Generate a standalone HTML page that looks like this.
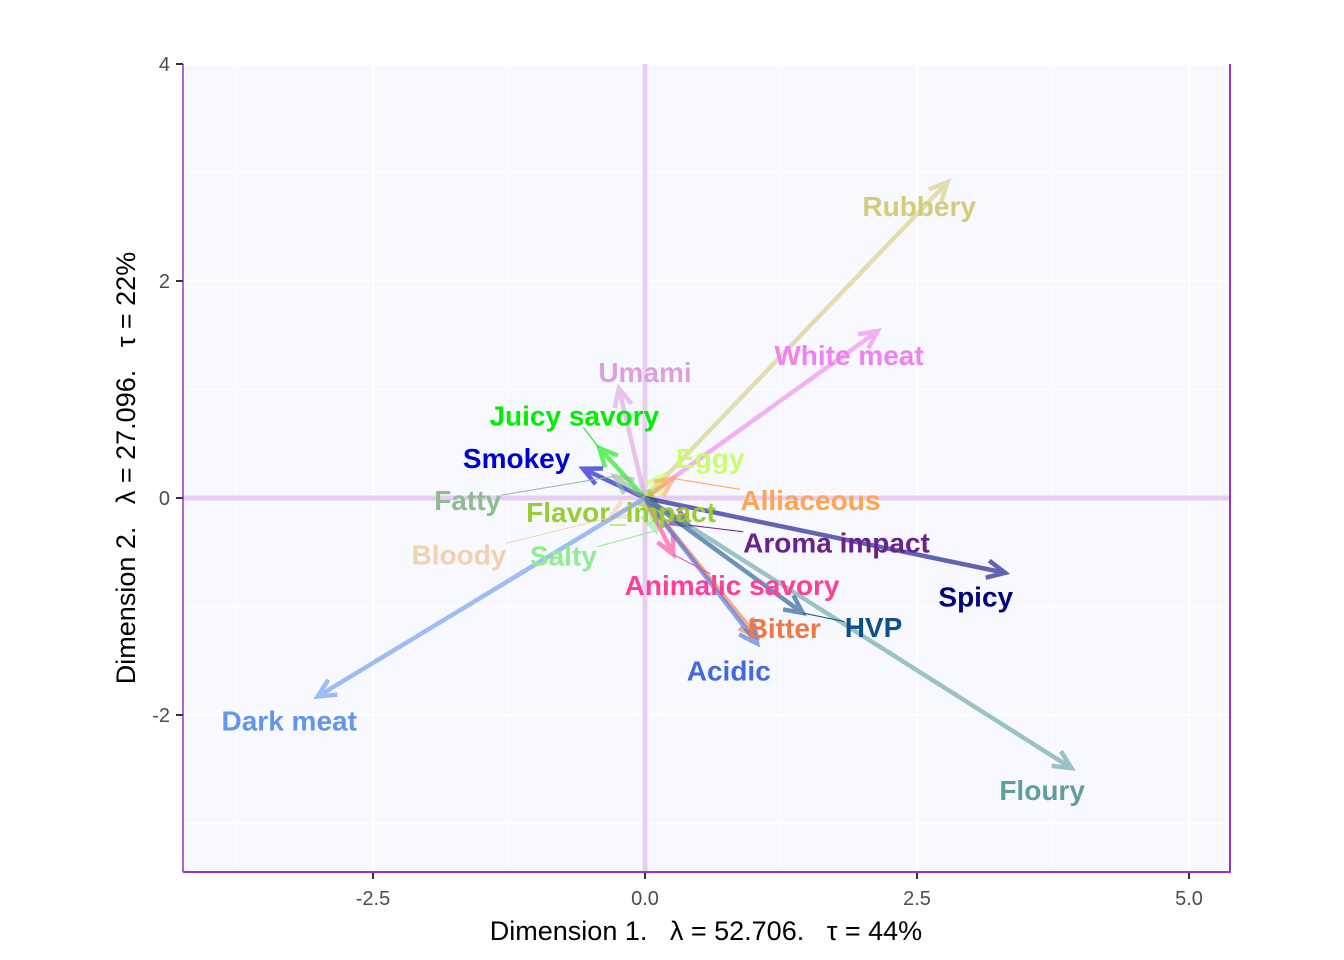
<!DOCTYPE html>
<html><head><meta charset="utf-8"><style>
body{margin:0;background:#fff;}
svg{display:block;font-family:"Liberation Sans",sans-serif;}
</style></head><body>
<svg id="chart" width="1344" height="960"></svg>
<script>
const names=["Rubbery","White meat","Umami","Juicy savory","Smokey","Eggy","Fatty","Alliaceous","Flavor_impact","Aroma impact","Bloody","Salty","Animalic savory","Spicy","Bitter","HVP","Acidic","Dark meat","Floury"];
const dim1=[2.78,2.14,-0.24,-0.42,-0.57,0.17,-0.28,0.26,0.12,0.40,-0.32,0.10,0.26,3.31,1.03,1.45,1.03,-3.01,3.92];
const dim2=[2.91,1.54,1.01,0.46,0.27,0.21,0.20,0.18,-0.08,-0.25,-0.18,-0.30,-0.52,-0.69,-1.28,-1.06,-1.34,-1.83,-2.49];
const labelX=[2.52,1.875,0,-0.65,-1.18,0.6,-1.63,1.52,-0.22,1.76,-1.71,-0.75,0.8,3.04,1.28,2.1,0.77,-3.27,3.65];
const labelY=[2.69,1.32,1.16,0.76,0.37,0.37,-0.02,-0.02,-0.13,-0.41,-0.52,-0.53,-0.80,-0.91,-1.20,-1.19,-1.59,-2.05,-2.69];
const hasLeader=[0,0,0,1,0,0,1,1,0,1,1,1,1,0,0,1,0,0,0];
const colors=["#D4CC7A","#EE82EE","#DDA0DD","#00EE00","#0000CD","#C8FF66","#8FBC8F","#FFA54F","#9ACD32","#68228B","#F0D2B0","#90EE90","#FF3E96","#000080","#EE7942","#104E8B","#4169E1","#6495ED","#5F9EA0"];
const xTicks=[-2.5,0,2.5,5];
const xTickLabels=["-2.5","0.0","2.5","5.0"];
const yTicks=[-2,0,2,4];
const yTickLabels=["-2","0","2","4"];

const NS="http://www.w3.org/2000/svg";
const svg=document.getElementById("chart");
const L=183,R=1230,T=64,B=872;
const sx=v=>645+v*108.8;
const sy=v=>498-v*108.5;
function el(tag,attrs,parent){const e=document.createElementNS(NS,tag);for(const k in attrs)e.setAttribute(k,attrs[k]);(parent||svg).appendChild(e);return e;}

const bg=el("rect",{x:L,y:T,width:R-L,height:B-T,fill:"#F8F8FF"});


for(const v of [-3.75,-1.25,1.25,3.75]){const g=el("line",{x1:sx(v),x2:sx(v),y1:T,y2:B,stroke:"#fff","stroke-width":1});

}
for(const v of [-3,-1,1,3]){const g=el("line",{x1:L,x2:R,y1:sy(v),y2:sy(v),stroke:"#fff","stroke-width":1});

}
xTicks.forEach(v=>{const g=el("line",{x1:sx(v),x2:sx(v),y1:T,y2:B,stroke:"#fff","stroke-width":2});

});
yTicks.forEach(v=>{const g=el("line",{x1:L,x2:R,y1:sy(v),y2:sy(v),stroke:"#fff","stroke-width":2});

});
const zx=el("line",{x1:sx(0),x2:sx(0),y1:T,y2:B,stroke:"#E6CFF2","stroke-width":5});


const zy=el("line",{x1:L,x2:R,y1:sy(0),y2:sy(0),stroke:"#E6CFF2","stroke-width":5});



names.forEach((n,i)=>{
  const x0=sx(0),y0=sy(0),x1=sx(dim1[i]),y1=sy(dim2[i]);
  const ang=Math.atan2(y1-y0,x1-x0),h=20,a=0.45;
  const g=el("g",{stroke:colors[i],"stroke-width":4.5,fill:"none",opacity:0.6,"stroke-linecap":"butt"});
  
  
  el("line",{x1:x0,y1:y0,x2:x1,y2:y1},g);
  el("polyline",{points:`${x1-h*Math.cos(ang-a)},${y1-h*Math.sin(ang-a)} ${x1},${y1} ${x1-h*Math.cos(ang+a)},${y1-h*Math.sin(ang+a)}`},g);
});

names.forEach((n,i)=>{
  const t=el("text",{x:sx(labelX[i]),y:sy(labelY[i])+10,"text-anchor":"middle","font-size":28,"font-weight":"bold",fill:colors[i]});
  t.textContent=n;
  
  
  if(!hasLeader[i])return;
  const bb=t.getBBox();
  const tx=sx(dim1[i]),ty=sy(dim2[i]);
  const cx=bb.x+bb.width/2,cy=bb.y+bb.height/2;
  const dx=tx-cx,dy=ty-cy;
  const s=Math.min(dx!==0?(bb.width/2)/Math.abs(dx):1e9,dy!==0?(bb.height/2-4)/Math.abs(dy):1e9);
  const ex=cx+dx*s,ey=cy+dy*s;
  const ln=el("line",{x1:ex,y1:ey,x2:tx,y2:ty,stroke:colors[i],"stroke-width":1});
  
  
  svg.insertBefore(ln,t);
});

const bl=el("line",{x1:L,x2:L,y1:T,y2:B,stroke:"#9932CC","stroke-width":1.5});


const br=el("line",{x1:R,x2:R,y1:T,y2:B+1,stroke:"#9932CC","stroke-width":2});


const bbm=el("line",{x1:L,x2:R+1,y1:B,y2:B,stroke:"#9932CC","stroke-width":2});



xTicks.forEach((v,i)=>{
  const tk=el("line",{x1:sx(v),x2:sx(v),y1:B+1,y2:B+7,stroke:"#333","stroke-width":2});
  
  
  const t=el("text",{x:sx(v),y:B+33,"text-anchor":"middle","font-size":20,fill:"#4D4D4D"});
  t.textContent=xTickLabels[i];
  
  
});
yTicks.forEach((v,i)=>{
  const tk=el("line",{x1:L-7,x2:L,y1:sy(v),y2:sy(v),stroke:"#333","stroke-width":2});
  
  
  const t=el("text",{x:L-13,y:sy(v)+7,"text-anchor":"end","font-size":20,fill:"#4D4D4D"});
  t.textContent=yTickLabels[i];
  
  
});
const xt=el("text",{x:706,y:940,"text-anchor":"middle","font-size":27,fill:"#000","xml:space":"preserve",style:"white-space:pre"});
xt.textContent="Dimension 1.   \u03BB = 52.706.   \u03C4 = 44%";


const yt=el("text",{x:0,y:0,"text-anchor":"middle","font-size":27,fill:"#000",style:"white-space:pre",transform:"translate(135,468) rotate(-90)"});
yt.textContent="Dimension 2.   \u03BB = 27.096.   \u03C4 = 22%";


</script>
</body></html>
